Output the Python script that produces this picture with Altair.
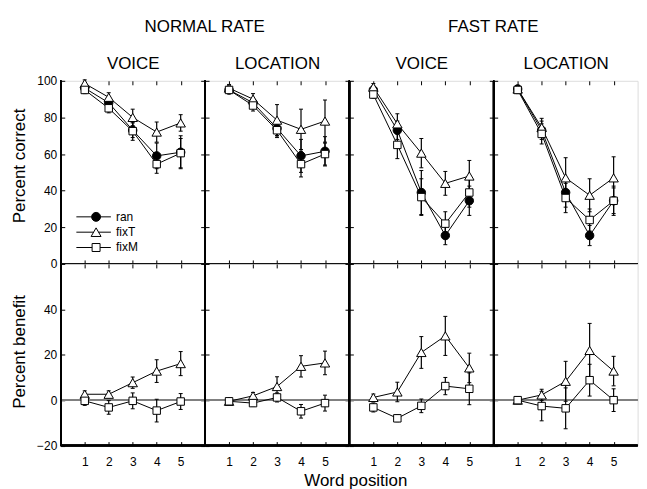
import altair as alt
import pandas as pd

FONT = "Liberation Sans"
X = [1, 2, 3, 4, 5]
SERIES = ["ran", "fixT", "fixM"]
BENEFIT_SERIES = ["fixT", "fixM"]

# ---------- Percent correct (top row): means and error half-widths ----------
NV_mean = {"ran": [96, 88, 73, 59, 61], "fixT": [98.5, 91, 80, 72, 77], "fixM": [95, 85, 72.5, 54.5, 60.5]}
NV_err = {"ran": [2, 2.5, 4, 7, 9], "fixT": [2, 2.5, 4.5, 5.5, 4.5], "fixM": [2, 2.5, 5, 5, 8]}

NL_mean = {"ran": [95, 88, 74, 59, 61.5], "fixT": [96, 90, 78.5, 73.5, 78], "fixM": [95, 86.5, 73, 54.5, 60]}
NL_err = {"ran": [2, 2.5, 4, 9, 8], "fixT": [2, 3, 8.5, 11, 11.5], "fixM": [2, 3, 4, 7, 6]}

FV_mean = {"ran": [95, 73, 39, 15.5, 34.5], "fixT": [96.5, 76.5, 60.5, 44, 48], "fixM": [92.5, 65, 36.5, 22, 39]}
FV_err = {"ran": [2, 5, 12, 5, 8], "fixT": [2, 5.5, 8, 6.5, 8.5], "fixM": [2, 7.5, 10, 6.5, 8]}

FL_mean = {"ran": [95.5, 73, 39, 15.5, 34.5], "fixT": [95.5, 74.5, 47, 37.5, 47], "fixM": [95, 71, 36, 24, 34.5]}
FL_err = {"ran": [2, 5, 8, 5.5, 8], "fixT": [2, 5, 11, 9, 11.5], "fixM": [2, 5.5, 8, 6, 7]}

# ---------- Percent benefit (bottom row) ----------
NVb_mean = {"fixT": [2.6, 2.6, 7.7, 12.8, 16.1], "fixM": [-0.3, -3.2, -0.3, -4.6, -0.6]}
NVb_err = {"fixT": [1.5, 1.5, 2.5, 5, 5.3], "fixM": [2, 3, 3.5, 5, 3.5]}

NLb_mean = {"fixT": [-0.5, 1.9, 6, 14.9, 16.4], "fixM": [-0.5, -1.3, 1.2, -4.9, -1.3]}
NLb_err = {"fixT": [1, 1.5, 4.3, 4.7, 5.2], "fixM": [1, 1.5, 2, 3, 3.5]}

FVb_mean = {"fixT": [1.2, 3.6, 21, 28.3, 14.2], "fixM": [-3.2, -8, -2.5, 6.2, 5]}
FVb_err = {"fixT": [1.5, 4.3, 7, 8.6, 6.5], "fixM": [2, 1.5, 3, 3.8, 7]}

FLb_mean = {"fixT": [0, 2.3, 8.3, 21.9, 12.8], "fixM": [0, -2.6, -3.6, 8.8, 0]}
FLb_err = {"fixT": [1.5, 2.5, 8.8, 11.9, 6.5], "fixM": [1.5, 6.5, 9, 7, 5]}

TOP_TICKS = [0, 20, 40, 60, 80, 100]
BOT_TICKS = [-20, 0, 20, 40, 60]
X_DOMAIN = [0, 6]
TOP_DOMAIN = [0, 100]
BOT_DOMAIN = [-20, 60]

# legend symbols: line + marker (custom paths in unit square coords)
LEG_PATHS = [
    "M-4.4,0H-1M1,0H3.3M-1,0A1,1,0,1,0,1,0A1,1,0,1,0,-1,0Z",
    "M-4.4,0H-0.555M0.555,0H3.3M0,-0.96L1.11,0.96H-1.11Z",
    "M-4.4,0H-0.89M0.89,0H3.3M-0.89,-0.89H0.89V0.89H-0.89Z",
]
LEG_FILLS = ["black", "white", "white"]
LEG_STROKES = ["black", "black", "black"]

W = 144.6


def make_df(means, errs, series):
    rows = []
    for s in series:
        for xi, v, e in zip(X, means[s], errs[s]):
            rows.append({"series": s, "x": xi, "y": v, "lo": v - e, "hi": v + e})
    return pd.DataFrame(rows)


def ax(orient, values, labels=False, title=None, **kw):
    d = dict(orient=orient, values=values, labels=labels, offset=-4, tickSize=4,
             tickWidth=1, tickColor="black", domain=False, grid=False,
             labelFontSize=12, labelColor="black", labelFont=FONT, labelFlush=False,
             titleFont=FONT, titleFontSize=17, titleFontWeight="normal", titleColor="black")
    d.update(kw)
    d["title"] = title
    return alt.Axis(**d)


MARKERS = {
    "ran": dict(shape="circle", fill="black", size=72),
    "fixT": dict(shape="triangle-up", fill="white", size=90),
    "fixM": dict(shape="square", fill="white", size=56),
}


def panel(means, errs, series, top, col, header=None, group_title=None, legend=False):
    df = make_df(means, errs, series)
    xs = alt.Scale(domain=X_DOMAIN, nice=False, zero=False)
    ydom = TOP_DOMAIN if top else BOT_DOMAIN
    yticks = TOP_TICKS if top else BOT_TICKS
    ys = alt.Scale(domain=ydom, nice=False, zero=False)
    H = 184 if top else 182.5

    # bottom axis
    if top:
        bottom_axis = ax("bottom", X)
    elif col == 2:
        bottom_axis = ax("bottom", X, labels=True, labelPadding=11.5, title="Word position",
                         titleX=6, titleY=44.5, titleBaseline="alphabetic", titleAlign="center")
    else:
        bottom_axis = ax("bottom", X, labels=True, labelPadding=11.5)
    # left axis
    if col == 0:
        kw = dict(labels=True, labelPadding=4, titleX=-40, titleY=85 if top else 88,
                  titleBaseline="alphabetic", titleAlign="center", titleAngle=270)
        if not top:
            kw["labelExpr"] = "datum.value == 60 ? '' : datum.label"
        left_axis = ax("left", yticks, title="Percent correct" if top else "Percent benefit", **kw)
    else:
        left_axis = ax("left", yticks)
    # top axis
    if header:
        top_axis = ax("top", X, title=header, titleX=W / 2, titleY=-16,
                      titleBaseline="alphabetic", titleAlign="center")
    else:
        top_axis = ax("top", X)
    # the right-most column's right edge lies at the picture's edge: no right axis there
    right_axis = ax("right", yticks) if col < 3 else None

    base = alt.Chart(df)
    layers = []
    if not top:
        layers.append(base.mark_rule(color="#808080", strokeWidth=1.5).encode(
            y=alt.YDatum(0, scale=ys, axis=None)))
    layers.append(base.mark_rule(color="black", strokeWidth=1.2).encode(
        x=alt.X("x:Q", scale=xs, axis=bottom_axis),
        y=alt.Y("lo:Q", scale=ys, axis=left_axis),
        y2="hi:Q"))
    for f in ["lo", "hi"]:
        layers.append(base.mark_point(shape="stroke", size=16, color="black", strokeWidth=1,
                                      opacity=1).encode(
            x=alt.X("x:Q", scale=xs, axis=None),
            y=alt.Y(f + ":Q", scale=ys, axis=None)))
    layers.append(base.mark_line(color="black", strokeWidth=1).encode(
        x=alt.X("x:Q", scale=xs, axis=top_axis),
        y=alt.Y("y:Q", scale=ys, axis=right_axis),
        detail="series:N"))
    for s in series:
        m = MARKERS[s]
        layers.append(base.transform_filter(alt.datum.series == s).mark_point(
            shape=m["shape"], filled=True, fill=m["fill"], stroke="black", strokeWidth=1,
            size=m["size"], opacity=1).encode(
            x=alt.X("x:Q", scale=xs, axis=None),
            y=alt.Y("y:Q", scale=ys, axis=None)))
    # heavier left and bottom axis lines (MATLAB style box)
    layers.append(base.mark_rule(color="black", strokeWidth=1.5).encode(
        x=alt.XDatum(X_DOMAIN[0], scale=xs, axis=None)))
    layers.append(base.mark_rule(color="black", strokeWidth=1.5).encode(
        y=alt.YDatum(ydom[0], scale=ys, axis=None)))
    if legend:
        leg = alt.Legend(title=None, orient="none", legendX=29.5, legendY=130.7, padding=0,
                         symbolSize=81, symbolStrokeColor="black", symbolStrokeWidth=1,
                         labelFont=FONT, labelFontSize=12, labelColor="black",
                         labelOffset=14, rowPadding=1.4, symbolOpacity=1)
        layers.append(base.transform_filter("false").mark_point(
            filled=True, size=81, strokeWidth=1, opacity=1).encode(
            x=alt.X("x:Q", scale=xs, axis=None),
            y=alt.Y("y:Q", scale=ys, axis=None),
            shape=alt.Shape("series:N", scale=alt.Scale(domain=SERIES, range=LEG_PATHS), legend=leg),
            fill=alt.Fill("series:N", scale=alt.Scale(domain=SERIES, range=LEG_FILLS), legend=leg),
            stroke=alt.Stroke("series:N", scale=alt.Scale(domain=SERIES, range=LEG_STROKES), legend=leg)))

    props = dict(width=W, height=H)
    if group_title:
        props["title"] = alt.TitleParams(group_title, font=FONT, fontSize=17, fontWeight="normal",
                                         color="black", anchor="middle", dx=W / 2, offset=6.5,
                                         baseline="alphabetic")
    return alt.layer(*layers).resolve_axis(x="independent", y="independent").properties(**props)


panels = [
    panel(NV_mean, NV_err, SERIES, True, 0, header="VOICE", group_title="NORMAL RATE", legend=True),
    panel(NL_mean, NL_err, SERIES, True, 1, header="LOCATION"),
    panel(FV_mean, FV_err, SERIES, True, 2, header="VOICE", group_title="FAST RATE"),
    panel(FL_mean, FL_err, SERIES, True, 3, header="LOCATION"),
    panel(NVb_mean, NVb_err, BENEFIT_SERIES, False, 0),
    panel(NLb_mean, NLb_err, BENEFIT_SERIES, False, 1),
    panel(FVb_mean, FVb_err, BENEFIT_SERIES, False, 2),
    panel(FLb_mean, FLb_err, BENEFIT_SERIES, False, 3),
]

chart = alt.concat(*panels, columns=4, spacing=0, bounds="flush").properties(
    padding={"left": 2, "top": 8, "right": 0, "bottom": 0}
).configure_view(stroke="black", strokeWidth=1).configure(font=FONT)

chart.save("out.html", embed_options={"renderer": "svg", "actions": False})
